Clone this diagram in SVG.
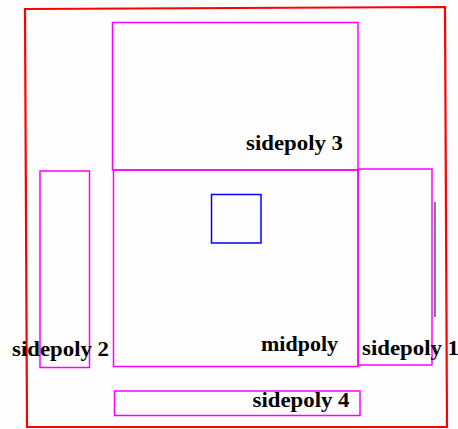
<svg xmlns="http://www.w3.org/2000/svg" width="458" height="429" viewBox="0 0 458 429">
<style>
.mag{fill:none;stroke:#ff00ff;stroke-width:1.5}
.lbl{font-family:"Liberation Serif","Times New Roman",serif;font-weight:bold;font-size:20px;fill:#000}
</style>
<rect width="458" height="429" fill="#fefefe"/>
<g id="outer"><polygon points="25,9 445,7 447,427 27,427" fill="none" stroke="#ff0000" stroke-width="2.2"/></g>
<g id="sidepoly3"><rect class="mag" x="112.5" y="22.5" width="245.5" height="147.5"/></g>
<g id="midpoly"><rect class="mag" x="113.5" y="170" width="244.5" height="196.5"/></g>
<g id="sidepoly1"><rect class="mag" x="358" y="169" width="74" height="196"/></g>
<g id="sidepoly2"><rect class="mag" x="40" y="171" width="49.5" height="196.5"/></g>
<g id="sidepoly4"><rect class="mag" x="114.5" y="391" width="245.5" height="24.5"/></g>
<g id="gray"><line x1="435" y1="202" x2="435" y2="317" stroke="#808080" stroke-width="2"/></g>
<g id="bluebox"><rect x="211.5" y="194.5" width="49.5" height="48.5" fill="none" stroke="#0000ff" stroke-width="1.5"/></g>
<g id="labels">
<text class="lbl" x="246" y="150" textLength="97" lengthAdjust="spacingAndGlyphs">sidepoly 3</text>
<text class="lbl" x="12" y="356" textLength="97" lengthAdjust="spacingAndGlyphs">sidepoly 2</text>
<text class="lbl" x="261" y="351" textLength="77" lengthAdjust="spacingAndGlyphs">midpoly</text>
<text class="lbl" x="362" y="355" textLength="97" lengthAdjust="spacingAndGlyphs">sidepoly 1</text>
<text class="lbl" x="252.5" y="407" textLength="97" lengthAdjust="spacingAndGlyphs">sidepoly 4</text>
</g>
</svg>
